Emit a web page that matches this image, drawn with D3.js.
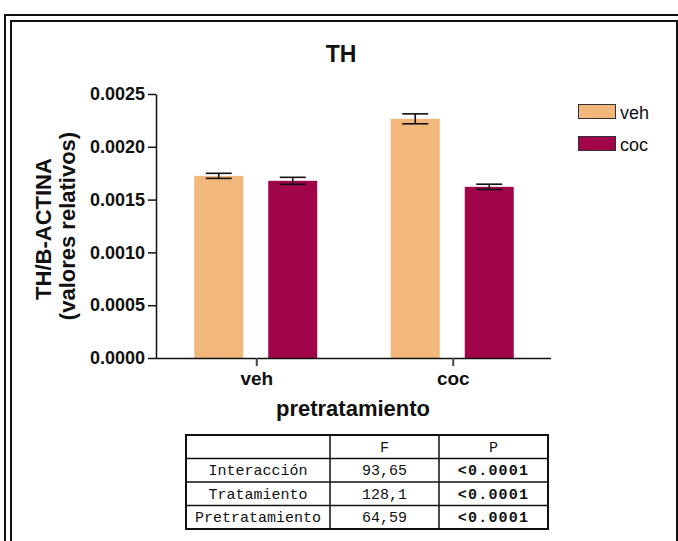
<!DOCTYPE html>
<html>
<head>
<meta charset="utf-8">
<script src="https://cdn.jsdelivr.net/npm/d3@7"></script>
<style>
  html, body { margin: 0; padding: 0; background: #fff; }
  svg { display: block; }
</style>
</head>
<body>
<svg id="chart" width="678" height="541"></svg>
<script>
// Groups on the x axis and the two treatment series
const categories = ["veh", "coc"];
const seriesNames = ["veh", "coc"];
const seriesColors = ["#F1B77B", "#A0054A"];

// Mean TH/B-actin ratio per pretreatment group, one array per series
const vehMeans = [0.001725, 0.002265];
const cocMeans = [0.001678, 0.001621];
// Standard error of each mean
const vehSem = [0.000024, 0.000047];
const cocSem = [0.000033, 0.000025];

const yTicks = [0, 0.0005, 0.0010, 0.0015, 0.0020, 0.0025];

// Two-way ANOVA summary table
const tableHeader = ["", "F", "P"];
const tableFactors = ["Interacción", "Tratamiento", "Pretratamiento"];
const tableF = ["93,65", "128,1", "64,59"];
const tableP = ["<0.0001", "<0.0001", "<0.0001"];

const svg = d3.select("#chart");
const ink = "#111";

// Double frame around the figure
const frame = svg.append("g").attr("fill", "none").attr("stroke", ink).attr("stroke-width", 2);
frame.append("path").attr("d", "M5,545 V15 H690");
frame.append("path").attr("d", "M11,545 V21 H677 V545");

// Scales
const y = d3.scaleLinear().domain([0, 0.0025]).range([358, 94]);
const x = d3.scalePoint().domain(categories).range([158, 551]).padding(0.5);
const xSub = d3.scaleBand().domain(seriesNames).range([-62, 61]).paddingInner(0.338);

const series = [
  { name: seriesNames[0], color: seriesColors[0], means: vehMeans, sem: vehSem },
  { name: seriesNames[1], color: seriesColors[1], means: cocMeans, sem: cocSem }
];

// Bars
const bars = svg.append("g");
series.forEach(s => {
  categories.forEach((c, i) => {
    const x0 = x(c) + xSub(s.name);
    bars.append("rect")
      .attr("x", x0)
      .attr("y", y(s.means[i]))
      .attr("width", xSub.bandwidth())
      .attr("height", y(0) - y(s.means[i]))
      .attr("fill", s.color);
  });
});

// Error bars (mean ± SEM)
const err = svg.append("g").attr("stroke", ink).attr("stroke-width", 1.6).attr("fill", "none");
series.forEach(s => {
  categories.forEach((c, i) => {
    const cx = x(c) + xSub(s.name) + xSub.bandwidth() / 2;
    const hi = y(s.means[i] + s.sem[i]);
    const lo = y(s.means[i] - s.sem[i]);
    err.append("line").attr("x1", cx).attr("x2", cx).attr("y1", hi).attr("y2", lo);
    err.append("line").attr("x1", cx - 13).attr("x2", cx + 13).attr("y1", hi).attr("y2", hi);
    err.append("line").attr("x1", cx - 13).attr("x2", cx + 13).attr("y1", lo).attr("y2", lo);
  });
});

// Y axis
const yAxis = svg.append("g")
  .attr("transform", "translate(156,0)")
  .call(d3.axisLeft(y).tickValues(yTicks).tickFormat(d3.format(".4f")).tickSize(8).tickSizeOuter(0).tickPadding(3));
yAxis.select(".domain").attr("stroke", ink).attr("stroke-width", 1.5);
yAxis.selectAll(".tick line").attr("stroke", ink).attr("stroke-width", 1.5);
yAxis.selectAll(".tick text")
  .attr("fill", ink)
  .attr("font-family", "'Liberation Sans', Arial, sans-serif")
  .attr("font-weight", "bold")
  .attr("font-size", 18);

// X axis
const xAxis = svg.append("g")
  .attr("transform", "translate(0,358)")
  .call(d3.axisBottom(x).tickSize(8).tickSizeOuter(0).tickPadding(6));
xAxis.select(".domain").attr("d", "M156,0.5H551").attr("stroke", ink).attr("stroke-width", 1.5);
xAxis.selectAll(".tick line").attr("stroke", "#444").attr("stroke-width", 2);
xAxis.selectAll(".tick text")
  .attr("fill", ink)
  .attr("font-family", "'Liberation Sans', Arial, sans-serif")
  .attr("font-weight", "bold")
  .attr("font-size", 19);

const sans = "'Liberation Sans', Arial, sans-serif";

// Title
svg.append("text")
  .attr("x", 341).attr("y", 62)
  .attr("text-anchor", "middle")
  .attr("font-family", sans).attr("font-weight", "bold").attr("font-size", 23)
  .attr("fill", ink)
  .text("TH");

// X axis title
svg.append("text")
  .attr("x", 353).attr("y", 416)
  .attr("text-anchor", "middle")
  .attr("font-family", sans).attr("font-weight", "bold").attr("font-size", 22)
  .attr("fill", ink)
  .text("pretratamiento");

// Y axis title, two lines
svg.append("text")
  .attr("transform", "translate(51,229) rotate(-90)")
  .attr("text-anchor", "middle")
  .attr("font-family", sans).attr("font-weight", "bold").attr("font-size", 22)
  .attr("fill", ink)
  .text("TH/B-ACTINA");
svg.append("text")
  .attr("transform", "translate(75,226) rotate(-90)")
  .attr("text-anchor", "middle")
  .attr("font-family", sans).attr("font-weight", "bold").attr("font-size", 22)
  .attr("fill", ink)
  .text("(valores relativos)");

// Legend
const legend = svg.append("g");
series.forEach((s, i) => {
  const ly = 104 + i * 32;
  legend.append("rect")
    .attr("x", 578.5).attr("y", ly + 0.5)
    .attr("width", 37).attr("height", 14)
    .attr("fill", s.color).attr("stroke", "#333").attr("stroke-width", 1);
  legend.append("text")
    .attr("x", 620).attr("y", ly + 15)
    .attr("font-family", sans).attr("font-size", 18)
    .attr("fill", ink)
    .text(s.name);
});

// ANOVA table
const colEdges = [186, 330, 439, 548];
const rowEdges = [435, 458.5, 482, 505.5, 529];
const table = svg.append("g");
const mono = "'Liberation Mono', 'Courier New', monospace";

const rows = [tableHeader].concat(tableFactors.map((f, i) => [f, tableF[i], tableP[i]]));
rows.forEach((r, ri) => {
  r.forEach((cell, ci) => {
    const cx = (colEdges[ci] + colEdges[ci + 1]) / 2;
    const cy = (rowEdges[ri] + rowEdges[ri + 1]) / 2;
    const boldP = ri > 0 && ci === 2;
    table.append("text")
      .attr("x", cx).attr("y", cy + 5)
      .attr("text-anchor", "middle")
      .attr("font-family", mono)
      .attr("font-size", boldP ? 15 : 15)
      .attr("font-weight", boldP ? "bold" : "normal")
      .attr("letter-spacing", boldP ? 1.2 : 0)
      .attr("fill", ink)
      .text(cell);
  });
});
const grid = table.append("g").attr("stroke", ink).attr("fill", "none");
colEdges.slice(1, -1).forEach(cx => {
  grid.append("line").attr("x1", cx).attr("x2", cx)
    .attr("y1", rowEdges[0]).attr("y2", rowEdges[rowEdges.length - 1]).attr("stroke-width", 1.5);
});
rowEdges.slice(1, -1).forEach(ry => {
  grid.append("line").attr("x1", colEdges[0]).attr("x2", colEdges[colEdges.length - 1])
    .attr("y1", ry).attr("y2", ry).attr("stroke-width", 1.5);
});
grid.append("rect")
  .attr("x", colEdges[0]).attr("y", rowEdges[0])
  .attr("width", colEdges[3] - colEdges[0]).attr("height", rowEdges[4] - rowEdges[0])
  .attr("stroke-width", 2);
</script>
</body>
</html>
